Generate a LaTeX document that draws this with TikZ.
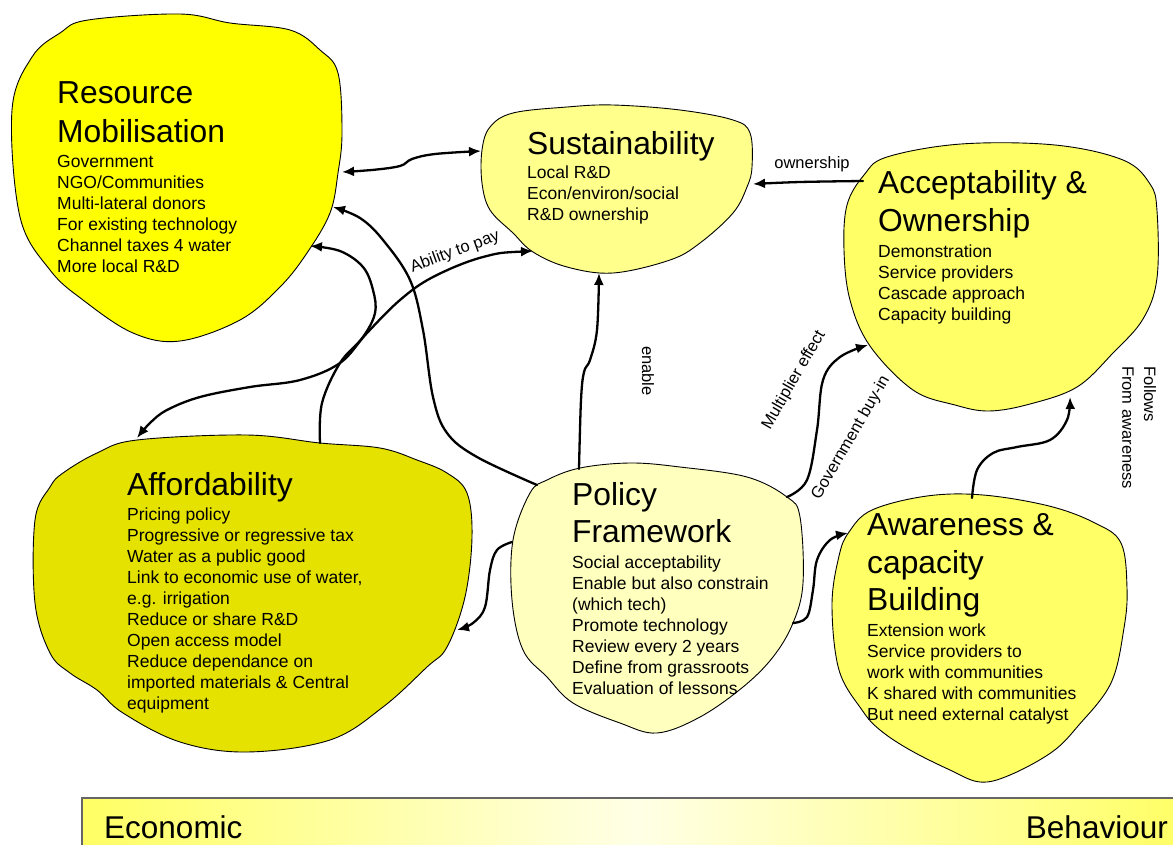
\documentclass[tikz,border=0pt]{standalone}
\usepackage{fontspec}
\setmainfont{Liberation Sans}
\usetikzlibrary{arrows.meta}
\definecolor{resY}{RGB}{255,255,0}
\definecolor{susY}{RGB}{255,255,140}
\definecolor{accY}{RGB}{255,255,102}
\definecolor{affY}{RGB}{229,226,0}
\definecolor{polY}{RGB}{255,255,190}
\definecolor{barY}{RGB}{255,255,100}
\definecolor{barW}{RGB}{255,255,230}
\begin{document}
\begin{tikzpicture}[x=1pt,y=-1pt,
  blob/.style={draw=black, line width=0.9pt},
  conn/.style={line width=2.3pt, line join=round, line cap=round},
  fwd/.style={-{Latex[length=12pt,width=10pt]}},
  both/.style={{Latex[length=12pt,width=10pt]}-{Latex[length=12pt,width=10pt]}},
  ttl/.style={font=\fontsize{31.8}{38}\selectfont, anchor=base west, inner sep=0pt},
  bdy/.style={font=\fontsize{17.5}{21}\selectfont, anchor=base west, inner sep=0pt},
  lbl/.style={font=\fontsize{16.5}{19}\selectfont, inner sep=0pt},
  bartxt/.style={font=\fontsize{31.5}{36}\selectfont, inner sep=0pt}]
\useasboundingbox (0,0) rectangle (1173,844);

% bottom bar
\path[left color=barY, right color=barY, middle color=barW] (82,798) rectangle (1190,860);
\draw[black!60, line width=1.5pt] (82,860) -- (82,798) -- (1190,798);
\node[bartxt, anchor=base west] (econ) at (104,838) {Economic};
\node[bartxt, anchor=base east] (behav) at (1168,838) {Behaviour};

% blobs
\draw[blob, fill=resY] plot[smooth cycle, tension=0.6] coordinates {(88,20) (180,14) (230,23) (290,30) (320,50) (338,73) (342,133) (338,173) (330,213) (307,253) (280,287) (240,320) (180,341) (133,333) (83,300) (50,270) (20,217) (12,110) (32,57) (60,33)};
\draw[blob, fill=susY] plot[smooth cycle, tension=0.6] coordinates {(482,150) (490,127) (513,113) (567,107) (613,105) (680,110) (733,120) (750,133) (752,167) (747,187) (733,213) (700,243) (670,260) (613,273) (567,267) (533,252) (513,233) (490,210) (482,183)};
\draw[blob, fill=accY] plot[smooth cycle, tension=0.6] coordinates {(864,175) (887,157) (961,144) (1055,145) (1123,160) (1150,184) (1157,211) (1157,278) (1143,319) (1113,353) (1077,387) (1030,404) (989,411) (955,405) (913,390) (870,346) (850,300) (844,250) (847,205)};
\draw[blob, fill=affY] plot[smooth cycle, tension=0.6] coordinates {(97,453) (137,440) (247,435) (320,443) (380,448) (417,460) (447,473) (467,493) (472,537) (465,597) (447,647) (427,667) (383,707) (330,740) (247,752) (180,742) (123,713) (97,690) (70,673) (50,653) (35,603) (35,520) (50,487) (63,473)};
\draw[blob, fill=polY] plot[smooth cycle, tension=0.6] coordinates {(530,493) (547,480) (580,468) (630,463) (680,467) (747,477) (787,497) (800,517) (803,583) (793,623) (773,657) (743,687) (700,717) (657,733) (620,723) (573,703) (547,677) (523,650) (512,600) (513,540)};
\draw[blob, fill=accY] plot[smooth cycle, tension=0.6] coordinates {(849,532) (872,510) (927,496) (983,495) (1049,506) (1095,523) (1121,543) (1127,588) (1124,628) (1111,683) (1078,726) (1052,752) (1010,775) (980,782) (950,770) (910,750) (880,730) (862,710) (839,670) (832,605) (839,556)};

% connector end points
\coordinate (resE1) at (342,172);
\coordinate (susW) at (481,151);
\coordinate (resE2) at (333,207);
\coordinate (resE3) at (310,246);
\coordinate (susSW) at (533,251);
\coordinate (susS) at (599,273);
\coordinate (susE) at (753,184);
\coordinate (affN1) at (137,438);
\coordinate (affN2) at (320,443);
\coordinate (affE) at (457,630);
\coordinate (polNW) at (537,485);
\coordinate (polN) at (579,469);
\coordinate (polNE) at (787,497);
\coordinate (polW) at (512,542);
\coordinate (polE) at (793,623);
\coordinate (accW) at (863,181);
\coordinate (accSW) at (868,345);
\coordinate (accS) at (1070,397);
\coordinate (awaW) at (848,533);
\coordinate (awaN) at (972,498);

% connectors
\draw[conn, both] plot[smooth, tension=0.6] coordinates {(resE1) (372,170) (400,166) (412,159) (435,154) (susW)};
\draw[conn, fwd] plot[smooth, tension=0.6] coordinates {(polNW) (477,457) (447,433) (433,397) (423,330) (410,280) (383,240) (360,218) (resE2)};
\draw[conn, fwd] plot[smooth, tension=0.6] coordinates {(affN2) (322,403) (340,363) (363,337) (375,313) (373,290) (363,267) (340,251) (resE3)};
\draw[conn, both] plot[smooth, tension=0.6] coordinates {(susSW) (483,257) (433,277) (400,300) (367,333) (340,363) (300,380) (250,387) (200,397) (167,410) (150,423) (affN1)};
\draw[conn, fwd] plot[smooth, tension=0.6] coordinates {(polN) (581,400) (584,372) (590,360) (597,330) (susS)};
\draw[conn, fwd] plot[smooth, tension=0.6] coordinates {(accW) (800,182) (susE)};
\draw[conn, fwd] plot[smooth, tension=0.6] coordinates {(polNE) (807,480) (817,430) (823,380) (840,357) (accSW)};
\draw[conn, fwd] plot[smooth, tension=0.6] coordinates {(polW) (497,550) (490,570) (485,607) (473,623) (affE)};
\draw[conn, fwd] plot[smooth, tension=0.6] coordinates {(polE) (807,617) (813,590) (817,560) (830,540) (awaW)};
\draw[conn, fwd] plot[smooth, tension=0.6] coordinates {(awaN) (977,470) (993,453) (1017,447) (1050,440) (1067,420) (accS)};

% connector labels
\node[lbl, rotate=20] (lpay) at (455,252) {Ability to pay};
\node[lbl, rotate=-90] (lenable) at (648,371) {enable};
\node[lbl] (lown) at (812,164) {ownership};
\node[lbl, rotate=60] (lmult) at (794,380) {Multiplier effect};
\node[lbl, rotate=60] (lgov) at (851,438) {Government buy-in};
\node[lbl, rotate=-90, anchor=west] (lfol) at (1150,366) {Follows};
\node[lbl, rotate=-90, anchor=west] (lfrom) at (1128,366) {From awareness};

% Resource Mobilisation
\node[ttl] (res-t1) at (57,103) {Resource};
\node[ttl] (res-t2) at (57,142) {Mobilisation};
\foreach \t [count=\i] in {Government, NGO/Communities, Multi-lateral donors, For existing technology, Channel taxes 4 water, More local R\&D}
  \node[bdy] (res-b\i) at (57,{167+21*(\i-1)}) {\t};

% Sustainability
\node[ttl] (sus-t1) at (527,154) {Sustainability};
\foreach \t [count=\i] in {Local R\&D, Econ/environ/social, R\&D ownership}
  \node[bdy] (sus-b\i) at (527,{178+21*(\i-1)}) {\t};

% Acceptability & Ownership
\node[ttl] (acc-t1) at (878,193) {Acceptability \&};
\node[ttl] (acc-t2) at (878,231) {Ownership};
\foreach \t [count=\i] in {Demonstration, Service providers, Cascade approach, Capacity building}
  \node[bdy] (acc-b\i) at (878,{257+21*(\i-1)}) {\t};

% Affordability
\node[ttl] (aff-t1) at (127,495) {Affordability};
\foreach \t [count=\i] in {Pricing policy, Progressive or regressive tax, Water as a public good, {Link to economic use of water,}, e.g. irrigation, Reduce or share R\&D, Open access model, Reduce dependance on, imported materials \& Central, equipment}
  \node[bdy] (aff-b\i) at (127,{520+21*(\i-1)}) {\t};

% Policy Framework
\node[ttl] (pol-t1) at (572,505) {Policy};
\node[ttl] (pol-t2) at (572,542) {Framework};
\foreach \t [count=\i] in {Social acceptability, Enable but also constrain, (which tech), Promote technology, Review every 2 years, Define from grassroots, Evaluation of lessons}
  \node[bdy] (pol-b\i) at (572,{568+21*(\i-1)}) {\t};

% Awareness & capacity Building
\node[ttl] (awa-t1) at (867,535) {Awareness \&};
\node[ttl] (awa-t2) at (867,573) {capacity};
\node[ttl] (awa-t3) at (867,610) {Building};
\foreach \t [count=\i] in {Extension work, Service providers to, work with communities, K shared with communities, But need external catalyst}
  \node[bdy] (awa-b\i) at (867,{636+21*(\i-1)}) {\t};
\end{tikzpicture}
\end{document}
